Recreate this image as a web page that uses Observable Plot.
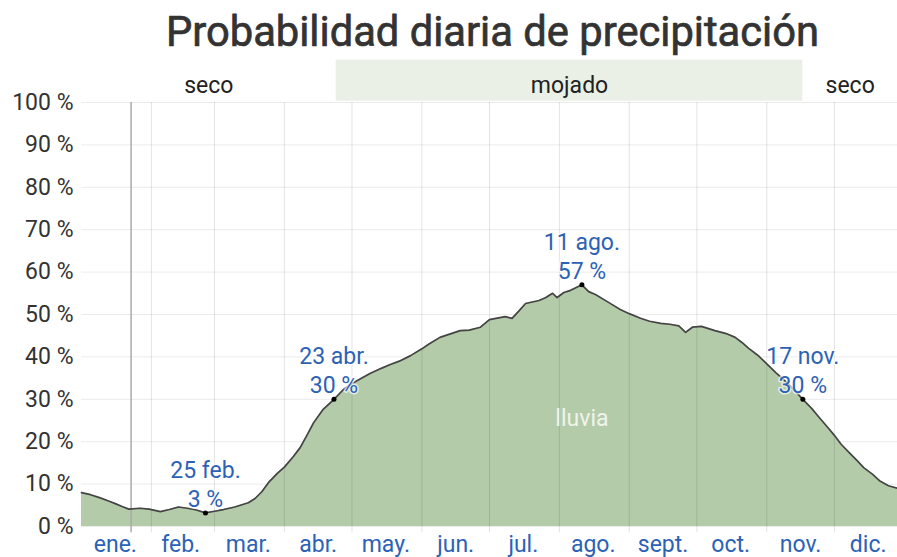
<!DOCTYPE html>
<html><head><meta charset="utf-8">
<script src="https://cdn.jsdelivr.net/npm/d3@7"></script>
<script src="https://cdn.jsdelivr.net/npm/@observablehq/plot@0.6"></script>
<style>html,body{margin:0;padding:0;background:#fff;}</style>
</head><body><div id="chart"></div>
<script>
const titleText = "Probabilidad diaria de precipitación";
const days = ["01-01","01-05","01-09","01-13","01-16","01-19","01-22","01-27","01-31","02-05","02-09","02-13","02-17","02-21","02-25","03-01","03-05","03-10","03-16","03-19","03-22","03-25","03-29","04-01","04-05","04-08","04-11","04-14","04-18","04-23","04-27","04-30","05-04","05-09","05-14","05-18","05-22","05-27","06-01","06-04","06-09","06-13","06-18","06-22","06-27","07-01","07-05","07-08","07-11","07-14","07-17","07-23","07-26","07-29","07-31","08-03","08-06","08-11","08-14","08-17","08-23","08-28","09-01","09-06","09-10","09-15","09-19","09-23","09-26","09-29","10-03","10-09","10-14","10-18","10-21","10-24","10-28","10-31","11-05","11-09","11-13","11-17","11-21","11-24","11-28","12-01","12-04","12-08","12-11","12-14","12-18","12-21","12-25","12-29"];
const probs = [8.0,7.5,6.8,6.0,5.4,4.7,4.1,4.3,4.1,3.5,4.0,4.6,4.3,3.9,3.2,3.6,4.0,4.6,5.6,6.6,8.2,10.4,12.6,14.0,16.5,18.6,21.5,24.5,27.5,30.0,32.2,33.4,34.6,36.1,37.3,38.2,39.0,40.3,41.9,43.0,44.6,45.3,46.2,46.3,47.0,48.8,49.2,49.5,49.1,50.8,52.6,53.3,54.0,55.0,54.0,55.2,55.7,57.0,55.4,54.7,52.8,51.2,50.2,49.1,48.4,47.9,47.7,47.3,45.8,47.0,47.2,46.2,45.5,44.6,43.4,42.0,40.4,38.9,36.3,34.4,32.3,30.0,27.8,25.9,23.4,21.5,19.4,17.2,15.6,13.9,12.3,10.8,9.6,9.0];
const monthLabels = ["ene.","feb.","mar.","abr.","may.","jun.","jul.","ago.","sept.","oct.","nov.","dic."];
const monthStarts = ["02-01","03-01","04-01","05-01","06-01","07-01","08-01","09-01","10-01","11-01","12-01"];
const monthMids = ["01-16","02-14","03-16","04-16","05-16","06-16","07-16","08-16","09-16","10-16","11-16","12-16"];
const yTicks = [0,10,20,30,40,50,60,70,80,90,100];
const seasonLabels = ["seco","mojado","seco"];
const seasonStarts = ["01-01","04-24","11-17"];
const seasonEnds = ["04-24","11-17","12-29"];
const seasonWet = [false,true,false];
const highlightDays = ["02-25","04-23","08-11","11-17"];
const highlightValues = [3.2,30.0,57.0,30.0];
const highlightLabels = ["25 feb.\n3 %","23 abr.\n30 %","11 ago.\n57 %","17 nov.\n30 %"];
const todayDay = "01-23";
const seriesLabel = "lluvia";
const seriesLabelDay = "08-11";
const seriesLabelValue = 25.5;

const parse = s => new Date(`2023-${s}T00:00:00Z`);
const series = days.map((d, i) => ({date: parse(d), p: probs[i]}));
const seasons = seasonLabels.map((l, i) => ({label: l, x1: parse(seasonStarts[i]), x2: parse(seasonEnds[i]), wet: seasonWet[i],
  mid: new Date((+parse(seasonStarts[i]) + +parse(seasonEnds[i])) / 2)}));
const highlights = highlightDays.map((d, i) => ({date: parse(d), p: highlightValues[i], label: highlightLabels[i]}));
const mids = monthMids.map(parse);
const labelByTime = new Map(mids.map((d, i) => [+d, monthLabels[i]]));
const blue = "#2c62b6";
const fs = 23;

const chart = Plot.plot({
  width: 897, height: 557,
  marginTop: 102, marginBottom: 31, marginLeft: 81, marginRight: 0,
  style: {fontFamily: "Roboto, sans-serif", fontSize: fs + "px", background: "#fff", color: "#333", overflow: "visible"},
  x: {type: "utc", domain: [parse("01-01"), parse("12-29")], axis: null},
  y: {domain: [0, 100], axis: null},
  marks: [
    Plot.rect(seasons.filter(s => s.wet), {x1: "x1", x2: "x2", y1: 100.3, y2: 110, fill: "#eaf0e6"}),
    Plot.text(seasons, {x: "mid", y: 104, text: "label", fill: "#222", fontSize: fs}),
    Plot.ruleY(yTicks, {stroke: "#000", strokeOpacity: 0.08}),
    Plot.areaY(series, {x: "date", y: "p", fill: "#b4cbaa"}),
    Plot.ruleX(monthStarts.map(parse), {y1: -1.5, y2: 100, stroke: "#000", strokeOpacity: 0.11}),
    Plot.ruleX([parse(todayDay)], {y1: -1.5, y2: 100, stroke: "#aaa", strokeWidth: 1.5}),
    Plot.line(series, {x: "date", y: "p", stroke: "#444", strokeWidth: 1.7}),
    Plot.dot(highlights, {x: "date", y: "p", r: 2.5, fill: "#000"}),
    Plot.text(highlights, {x: "date", y: "p", text: "label", lineAnchor: "bottom", dy: -6, lineHeight: 1.27,
      fontSize: fs, fill: blue, stroke: "white", strokeOpacity: 0.7, strokeWidth: 3}),
    Plot.text([seriesLabel], {x: parse(seriesLabelDay), y: seriesLabelValue, text: d => d, fill: "#eef4ea", fontSize: fs}),
    Plot.axisY({ticks: yTicks, tickSize: 0, tickPadding: 8, tickFormat: d => d + " %", fontSize: fs, fill: "#333", label: null}),
    Plot.axisX({ticks: mids, tickSize: 0, tickPadding: 9, tickFormat: d => labelByTime.get(+d), fontSize: fs, fill: blue, label: null}),
    Plot.text([titleText], {frameAnchor: "top", lineAnchor: "middle", dy: -70, dx: 3, text: d => d, fontSize: 41.7, fontWeight: 400,
      fill: "#333", stroke: "#333", strokeWidth: 0.7})
  ]
});
document.getElementById("chart").appendChild(chart);
</script>
</body></html>
